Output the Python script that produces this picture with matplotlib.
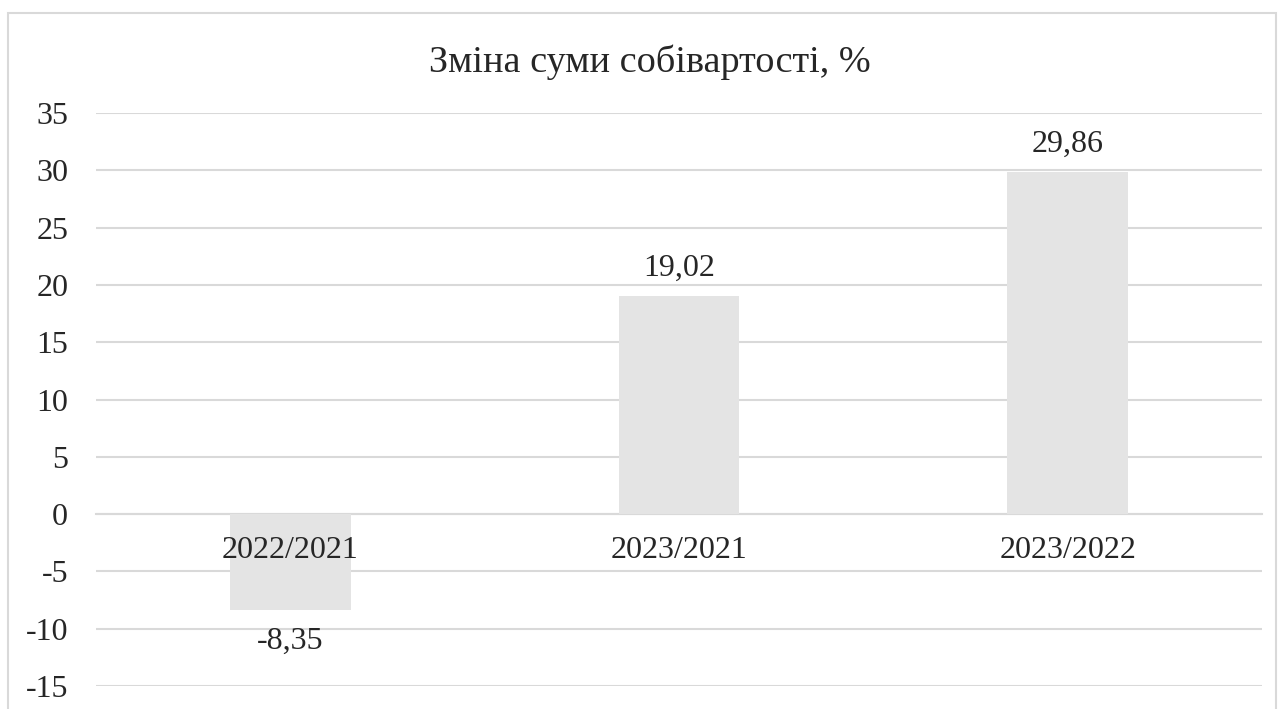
import matplotlib
matplotlib.use("Agg")
import matplotlib.pyplot as plt
from matplotlib.patches import Rectangle

categories = ["2022/2021", "2023/2021", "2023/2022"]
values = [-8.35, 19.02, 29.86]
labels = ["-8,35", "19,02", "29,86"]
yticks = [-15, -10, -5, 0, 5, 10, 15, 20, 25, 30, 35]
title = "Зміна суми собівартості, %"

plt.rcParams['font.family'] = ['Liberation Serif', 'DejaVu Serif']
TXT = '#262626'
FS = 23

fig = plt.figure(figsize=(12.82, 7.09), dpi=100)
fig.patches.append(Rectangle((8/1282, -0.1), (1276-8)/1282, 1.1 - 13/709,
                             transform=fig.transFigure, fill=False,
                             edgecolor='#d9d9d9', linewidth=1.5))
ax = fig.add_axes([96/1282, (709-686)/709, (1262-96)/1282, (686-113)/709])

x = list(range(len(categories)))
ax.bar(x, values, width=0.31, color='#e4e4e4', zorder=2)
ax.set_xlim(-0.5, 2.5)
ax.set_ylim(-15, 35)
ax.set_yticks(yticks)
ax.set_yticklabels([str(t) for t in yticks], fontsize=FS, color=TXT)
ax.yaxis.grid(True, color='#d9d9d9', linewidth=1.5, zorder=0)
ax.set_axisbelow(True)
for s in ['top', 'right', 'left']:
    ax.spines[s].set_visible(False)
ax.spines['bottom'].set_position(('data', 0))
ax.spines['bottom'].set_color('#d9d9d9')
ax.spines['bottom'].set_linewidth(1.5)
ax.spines['bottom'].set_zorder(1)
ax.set_xticks(x)
ax.set_xticklabels([])
ax.tick_params(axis='x', length=0)
ax.tick_params(axis='y', length=0, pad=20)

for xi, cat in zip(x, categories):
    ax.annotate(cat, (xi, 0), xytext=(0, -26), textcoords='offset points',
                ha='center', va='center', fontsize=FS, color=TXT, zorder=5)

for xi, v, lab in zip(x, values, labels):
    off = 20 if v >= 0 else -23
    ax.annotate(lab, (xi, v), xytext=(0, off), textcoords='offset points',
                ha='center', va='center', fontsize=FS, color=TXT, zorder=5)

fig.text(650/1282, 1 - 62/709, title, ha='center', va='center', fontsize=27.5,
         color=TXT)

fig.savefig("out.png", dpi=100)
